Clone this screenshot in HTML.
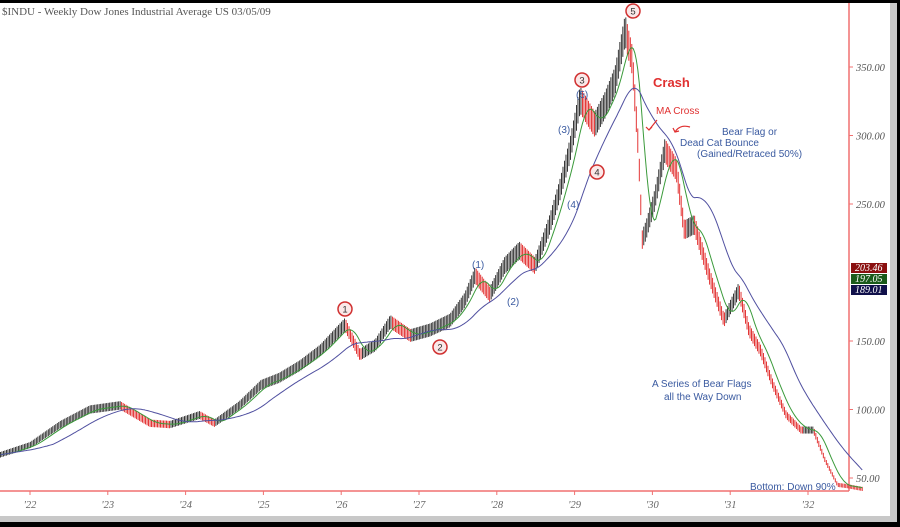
<!DOCTYPE html>
<html><head><meta charset="utf-8"><style>
body{margin:0;background:#000;width:900px;height:527px;overflow:hidden}
svg{position:absolute;left:0;top:0}
text{font-family:"Liberation Sans",sans-serif}
</style></head><body>
<svg width="900" height="527">
<rect x="0" y="3" width="897" height="519" fill="#c8c8c8"/>
<rect x="0" y="3" width="890" height="513" fill="#fff"/>
<text x="2" y="15" font-size="11" fill="#555" style="font-family:'Liberation Serif',serif">$INDU - Weekly  Dow Jones Industrial Average  US  03/05/09</text>
<line x1="0" y1="491" x2="849" y2="491" stroke="#f07070" stroke-width="1.5"/>
<line x1="849" y1="3" x2="849" y2="491" stroke="#f07070" stroke-width="1.5"/>
<g id="yticks"></g><g id="xticks"></g>
<g id="bars"></g><g id="ma"></g>
<g id="ann" font-size="10"></g>
</svg>
<script>
const dates=[1921.62,1922.0,1922.39,1922.77,1923.16,1923.54,1923.8,1924.18,1924.37,1924.69,1924.97,1925.2,1925.47,1925.73,1926.05,1926.24,1926.44,1926.63,1926.89,1927.14,1927.4,1927.59,1927.72,1927.91,1928.1,1928.29,1928.49,1928.68,1928.81,1928.94,1929.07,1929.26,1929.39,1929.52,1929.65,1929.74,1929.82,1929.87,1929.92,1930.03,1930.16,1930.31,1930.41,1930.54,1930.73,1930.92,1931.11,1931.24,1931.39,1931.55,1931.72,1931.91,1932.07,1932.22,1932.38,1932.51,1932.7];
const prices=[67,74,89,100,103,90,89,96,90,103,118,123,132,143,162,140,147,164,154,158,165,180,198,184,205,216,205,235,260,289,326,308,322,340,377,355,290,224,231,253,289,275,231,235,198,165,187,158,143,118,96,85,85,63,45,44,42];
const yTicks=[50,100,150,250,300,350];
const yearLabels=["'22","'23","'24","'25","'26","'27","'28","'29","'30","'31","'32"];
const NS='http://www.w3.org/2000/svg';
const X=t=>30+(t-1922)*77.8, Y=v=>478-(v-50)*1.37;
function mk(tag,at,par){const e=document.createElementNS(NS,tag);for(const k in at)e.setAttribute(k,at[k]);document.getElementById(par).appendChild(e);return e;}
yTicks.forEach(v=>{
 const l=mk('line',{x1:849,x2:853,y1:Y(v),y2:Y(v),stroke:'#f07070'},'yticks');
 
 
 const t=mk('text',{x:856,y:Y(v)+4,'font-size':10.5,fill:'#555','font-style':'italic',style:"font-family:'Liberation Serif',serif"},'yticks');
 t.textContent=v.toFixed(2);
 
 
});
yearLabels.forEach((s,i)=>{
 const x=X(1922+i);
 const l=mk('line',{x1:x,x2:x,y1:491,y2:495,stroke:'#f07070'},'xticks');
 
 
 const t=mk('text',{x:x,y:508,'font-size':10.5,fill:'#666','font-style':'italic','text-anchor':'middle',style:"font-family:'Liberation Serif',serif"},'xticks');
 t.textContent=s;
 
 
});
const wk=[];
for(let t=dates[0];t<=dates[dates.length-1];t+=1/52){
 let i=0;while(i<dates.length-2&&dates[i+1]<t)i++;
 const f=(t-dates[i])/(dates[i+1]-dates[i]);wk.push([t,prices[i]+(prices[i+1]-prices[i])*f]);
}
wk.forEach((p,i)=>{
 const prev=i?wk[i-1][1]:p[1];const down=p[1]<prev;
 const r=Math.max(1.5,p[1]*0.03);
 const b=mk('line',{x1:X(p[0]),x2:X(p[0]),y1:Y(p[1]+r),y2:Y(p[1]-r),stroke:down?'#e02020':'#222','stroke-width':0.9},'bars');
 
 
});
function ma(n,col,name){
 let d='';
 wk.forEach((p,i)=>{const s=wk.slice(Math.max(0,i-n+1),i+1);const m=s.reduce((a,b)=>a+b[1],0)/s.length;d+=(i?'L':'M')+X(p[0]).toFixed(1)+','+Y(m).toFixed(1);});
 const e=mk('path',{d:d,fill:'none',stroke:col,'stroke-width':1},'ma');
 
 
}
ma(10,'#3a9a3a','ma-short-line');ma(36,'#5050a0','ma-long-line');
[[1,345,309],[2,440,347],[3,582,80],[4,597,172],[5,633,11]].forEach(c=>{
 const g=mk('circle',{cx:c[1],cy:c[2],r:7,fill:'#fbe8e8',stroke:'#d03030','stroke-width':1.5},'ann');
 
 
 const t=mk('text',{x:c[1],y:c[2]+3.5,'text-anchor':'middle','font-size':9.5,fill:'#333'},'ann');t.textContent=c[0];
 
 
});
[["(1)",472,268],["(2)",507,305],["(3)",558,133],["(4)",567,208],["(5)",576,98],["Bear Flag or",722,135],["Dead Cat Bounce",680,146],["(Gained/Retraced 50%)",697,157],["A Series of Bear Flags",652,387],["all the Way Down",664,400],["Bottom:  Down 90%",750,490]].forEach(a=>{
 const t=mk('text',{x:a[1],y:a[2],fill:'#3a5aa0','font-size':10},'ann');t.textContent=a[0];
 
 
});
const cr=mk('text',{x:653,y:87,fill:'#e03030','font-size':13,'font-weight':'bold'},'ann');cr.textContent='Crash';


const mc=mk('text',{x:656,y:114,fill:'#e03030','font-size':10},'ann');mc.textContent='MA Cross';


const ar=mk('path',{d:'M657,120 L649,130 M646,127 L649,130 L652,127 M690,127 Q680,124 675,132 M673,128 L675,132 L679,131',stroke:'#e03030',fill:'none','stroke-width':1.2},'ann');


[["203.46",267,'#8a1010'],["197.05",278,'#1a5a1a'],["189.01",289,'#10104a']].forEach(b=>{
 const r=mk('rect',{x:851,y:b[1]-4,width:36,height:10,fill:b[2]},'ann');
 
 
 const t=mk('text',{x:855,y:b[1]+4,fill:'#fff','font-size':10,'font-style':'italic',style:"font-family:'Liberation Serif',serif"},'ann');t.textContent=b[0];
 
 
});
</script>
</body></html>
